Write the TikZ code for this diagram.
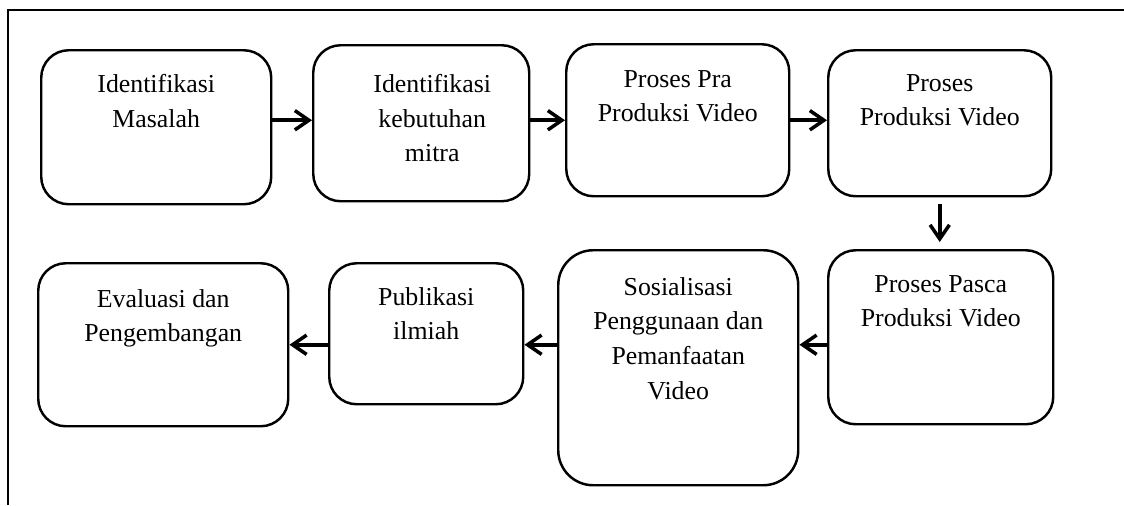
\documentclass[tikz,border=0pt]{standalone}
\usepackage{fontspec}
\setmainfont{Liberation Serif}
\usetikzlibrary{arrows.meta}
\newlength{\pxu}
\setlength{\pxu}{0.02cm}
% box contents: width, height, top gap, text shift, lines
\newcommand{\stagetext}[5]{\parbox[c][#2\pxu][t]{#1\pxu}{\centering\advance\leftskip #4\pxu\relax\vspace*{#3\pxu}#5}}

\begin{document}
\begin{tikzpicture}[x=0.02cm, y=-0.02cm,
  font=\fontsize{14.7pt}{19.8pt}\selectfont,
  stage/.style={draw, line width=1.4pt, rounded corners=0.55cm, inner sep=0pt, anchor=north west},
  flow/.style={-{Straight Barb[length=8pt,width=11pt]}, line width=2pt}]
\useasboundingbox (0,0) rectangle (1124,505);
\draw[line width=1.4pt] (8,505) -- (8,10) -- (1124,10);

% upper row
\node[stage] (idm) at (40,49) {\stagetext{230}{154}{24}{0}{Identifikasi\\Masalah}};
\node[stage] (keb) at (312,44) {\stagetext{216}{156}{29}{22}{Identifikasi\\kebutuhan\\mitra}};
\node[stage] (pra) at (565,43) {\stagetext{223}{152}{26}{0}{Proses Pra\\Produksi Video}};
\node[stage] (prod) at (827,49) {\stagetext{223}{146}{24}{0}{Proses\\Produksi Video}};

% lower row
\node[stage] (pasca) at (827,249) {\stagetext{225}{174}{25}{0}{Proses Pasca\\Produksi Video}};
\node[stage, rounded corners=0.7cm] (sos) at (557,249) {\stagetext{240}{235}{27}{0}{Sosialisasi\\Penggunaan dan\\Pemanfaatan\\Video}};
\node[stage] (pub) at (328,262) {\stagetext{194}{141}{24}{0}{Publikasi\\ilmiah}};
\node[stage] (eval) at (37,262) {\stagetext{250}{163}{26}{0}{Evaluasi dan\\Pengembangan}};

\draw[flow] (idm.east |- pra) -- (keb.west |- pra);
\draw[flow] (keb.east |- pra) -- (pra.west);
\draw[flow] (pra.east) -- (prod.west |- pra);
\draw[flow, shorten <=7\pxu, shorten >=7\pxu] (prod.south) -- (prod.south |- pasca.north);
\draw[flow] (pasca.west |- eval) -- (sos.east |- eval);
\draw[flow] (sos.west |- eval) -- (pub.east |- eval);
\draw[flow] (pub.west |- eval) -- (eval.east);
\end{tikzpicture}
\end{document}
